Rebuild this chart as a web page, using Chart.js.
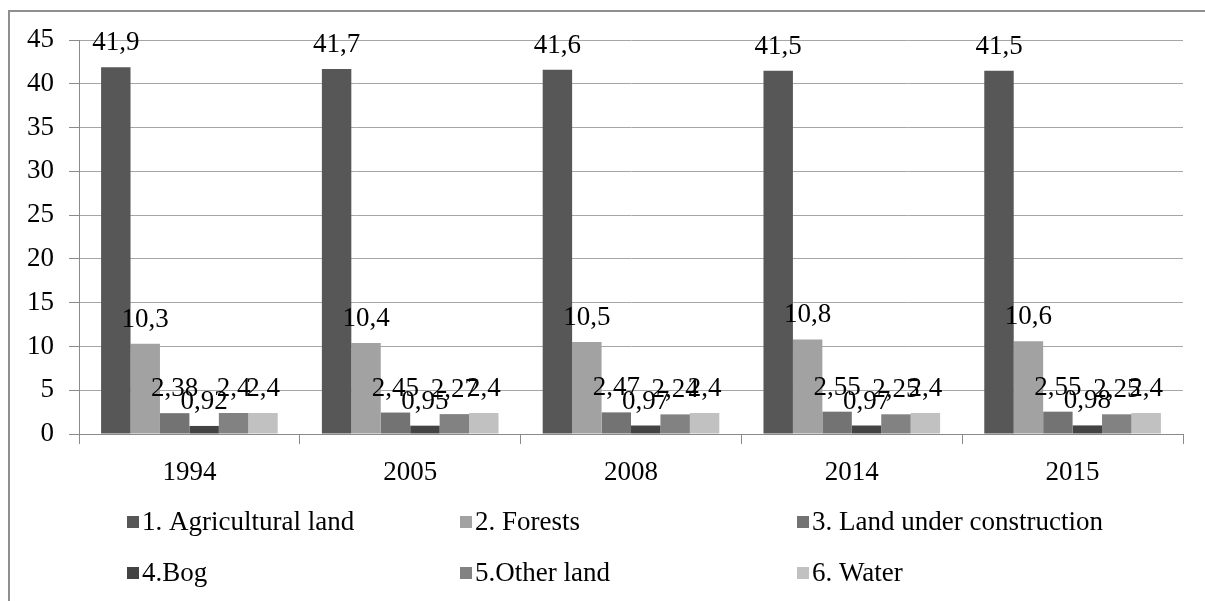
<!DOCTYPE html>
<html>
<head>
<meta charset="utf-8">
<script src="https://cdn.jsdelivr.net/npm/chart.js@4.4.1/dist/chart.umd.min.js"></script>
<style>
  html, body { margin: 0; padding: 0; background: #fff; }
  #wrap { position: relative; width: 1205px; height: 601px; }
  #frame { position: absolute; left: 8px; top: 10px; right: 0; bottom: 0;
           border-left: 2px solid #8f8f8f; border-top: 2px solid #8f8f8f; pointer-events: none; }
  canvas { position: absolute; left: 0; top: 0; }
</style>
</head>
<body>
<div id="wrap">
  <canvas id="c" width="1205" height="601"></canvas>
  <div id="frame"></div>
</div>
<script>
// Land use shares by year
const years = ['1994', '2005', '2008', '2014', '2015'];
const agricultural = [41.9, 41.7, 41.6, 41.5, 41.5];
const forests = [10.3, 10.4, 10.5, 10.8, 10.6];
const construction = [2.38, 2.45, 2.47, 2.55, 2.55];
const bog = [0.92, 0.95, 0.97, 0.97, 0.98];
const otherLand = [2.4, 2.27, 2.24, 2.25, 2.25];
const water = [2.4, 2.4, 2.4, 2.4, 2.4];

const seriesNames = ['1. Agricultural land', '2. Forests', '3. Land under construction',
                     '4.Bog', '5.Other land', '6. Water'];
const seriesColors = ['#575757', '#a2a2a2', '#737373', '#434343', '#828282', '#c1c1c1'];
const seriesValues = [agricultural, forests, construction, bog, otherLand, water];

const FONT = '"Liberation Serif", "Times New Roman", serif';
const SIZE = 27;

// Value labels above each bar, decimal comma
const valueLabels = {
  id: 'valueLabels',
  afterDatasetsDraw(chart) {
    const ctx = chart.ctx;
    ctx.save();
    ctx.font = SIZE + 'px ' + FONT;
    ctx.fillStyle = '#000';
    ctx.textAlign = 'center';
    ctx.textBaseline = 'alphabetic';
    chart.data.datasets.forEach((ds, i) => {
      chart.getDatasetMeta(i).data.forEach((bar, j) => {
        const txt = String(ds.data[j]).replace('.', ',');
        ctx.fillText(txt, bar.x, bar.y - 17);
      });
    });
    ctx.restore();
  }
};

// Three-column legend under the axis
const gridLegend = {
  id: 'gridLegend',
  afterDraw(chart) {
    const ctx = chart.ctx;
    const cols = [127, 460, 797];
    const rows = [522, 573];
    ctx.save();
    ctx.font = SIZE + 'px ' + FONT;
    ctx.textBaseline = 'middle';
    ctx.textAlign = 'left';
    chart.data.datasets.forEach((ds, i) => {
      const x = cols[i % 3];
      const y = rows[Math.floor(i / 3)];
      ctx.fillStyle = ds.backgroundColor;
      ctx.fillRect(x, y - 6, 12, 12);
      ctx.fillStyle = '#000';
      ctx.fillText(ds.label, x + 15, y + 1);
    });
    ctx.restore();
  }
};

function build() {
  new Chart(document.getElementById('c'), {
    type: 'bar',
    data: {
      labels: years,
      datasets: seriesNames.map((name, i) => ({
        label: name,
        data: seriesValues[i],
        backgroundColor: seriesColors[i],
        borderWidth: 0,
        categoryPercentage: 0.8,
        barPercentage: 1.0
      }))
    },
    options: {
      responsive: false,
      animation: false,
      layout: { padding: { left: 0, right: 22, top: 40, bottom: 0 } },
      plugins: { legend: { display: false }, tooltip: { enabled: false } },
      scales: {
        x: {
          afterFit(s) { s.height = 167; },
          border: { color: '#8a8a8a', width: 1 },
          grid: { drawOnChartArea: false, drawTicks: true, tickLength: 10, color: '#8a8a8a', offset: true },
          ticks: { color: '#000', font: { family: FONT, size: SIZE }, padding: 13, maxRotation: 0 }
        },
        y: {
          min: 0, max: 45,
          afterFit(s) { s.width = 79; },
          border: { color: '#8a8a8a', width: 1 },
          grid: { color: '#a6a6a6', tickColor: '#8a8a8a', tickLength: 10 },
          ticks: { stepSize: 5, color: '#000', font: { family: FONT, size: SIZE }, padding: 15 }
        }
      }
    },
    plugins: [valueLabels, gridLegend]
  });
}

document.fonts.load(SIZE + 'px "Liberation Serif"').then(build, build);
</script>
</body>
</html>
